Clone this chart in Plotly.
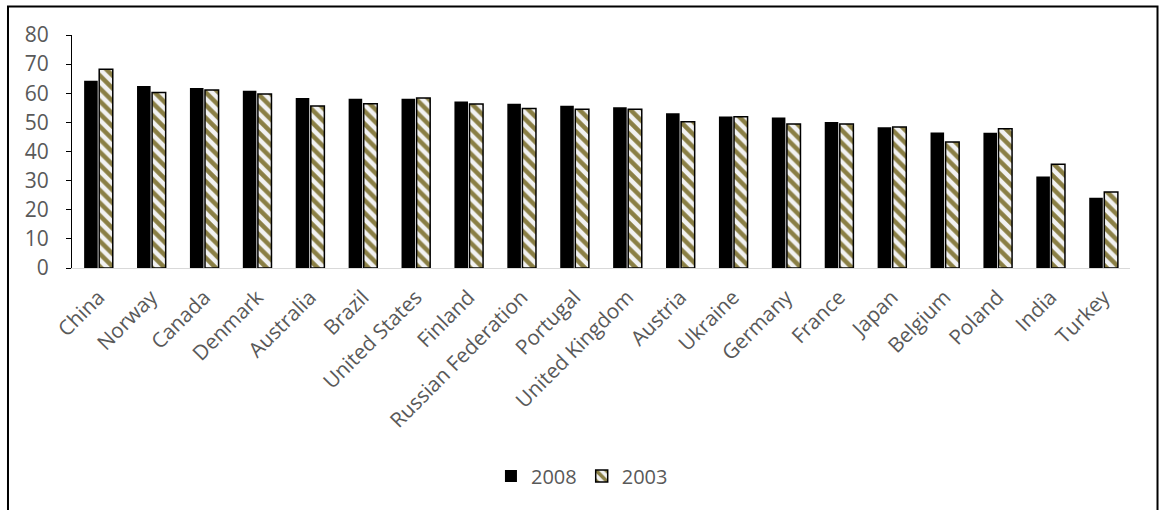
import plotly.graph_objects as go

countries = ["China", "Norway", "Canada", "Denmark", "Australia", "Brazil",
             "United States", "Finland", "Russian Federation", "Portugal",
             "United Kingdom", "Austria", "Ukraine", "Germany", "France",
             "Japan", "Belgium", "Poland", "India", "Turkey"]

values_2008 = [64.3, 62.5, 61.8, 60.9, 58.4, 58.1, 58.1, 57.2, 56.4, 55.7,
               55.2, 53.1, 52.0, 51.7, 50.1, 48.3, 46.5, 46.4, 31.4, 24.1]

values_2003 = [68.2, 60.3, 61.1, 59.7, 55.6, 56.4, 58.4, 56.3, 54.8, 54.5,
               54.5, 50.2, 51.9, 49.4, 49.4, 48.4, 43.3, 47.8, 35.6, 26.1]

y_ticks = [0, 10, 20, 30, 40, 50, 60, 70, 80]

FONT = "Open Sans"
TEXT_GRAY = "#595959"

fig = go.Figure()

fig.add_trace(go.Bar(
    name="2008",
    x=countries,
    y=values_2008,
    marker=dict(color="#000000", line=dict(width=0)),
))

fig.add_trace(go.Bar(
    name="2003",
    x=countries,
    y=values_2003,
    marker=dict(
        color="#f2f2f2",
        line=dict(color="#000000", width=1.5),
        pattern=dict(shape="\\", fgcolor="#8a7f45", bgcolor="#f2f2f2",
                     fgopacity=1, size=9, solidity=0.5),
    ),
))

fig.update_layout(
    width=1159,
    height=510,
    margin=dict(l=72, r=29, t=35, b=242),
    paper_bgcolor="#ffffff",
    plot_bgcolor="#ffffff",
    barmode="group",
    bargap=0.43,
    bargroupgap=0.1,
    font=dict(family=FONT, color=TEXT_GRAY, size=21),
    showlegend=True,
    legend=dict(
        orientation="h",
        x=0.482,
        xanchor="center",
        y=-0.893,
        yanchor="middle",
        font=dict(family=FONT, color=TEXT_GRAY, size=20),
        itemwidth=30,
        bgcolor="rgba(0,0,0,0)",
    ),
    xaxis=dict(
        type="category",
        tickangle=-45,
        showline=True,
        linecolor="#d9d9d9",
        linewidth=1,
        ticks="",
        showgrid=False,
        ticklabelstandoff=8,
        tickfont=dict(family=FONT, color=TEXT_GRAY, size=20.7),
    ),
    yaxis=dict(
        range=[0, 80],
        tickvals=y_ticks,
        showline=True,
        linecolor="#000000",
        linewidth=1,
        ticks="outside",
        tickcolor="#000000",
        ticklen=5,
        showgrid=False,
        zeroline=False,
        ticklabelstandoff=13,
        tickfont=dict(family=FONT, color=TEXT_GRAY, size=21),
    ),
    shapes=[dict(
        type="rect",
        xref="paper", yref="paper",
        x0=-0.0605, x1=1.026, y0=-1.06, y1=1.1223,
        line=dict(color="#000000", width=2),
        fillcolor="rgba(0,0,0,0)",
        layer="below",
    )],
)

fig.write_html("out.html")
